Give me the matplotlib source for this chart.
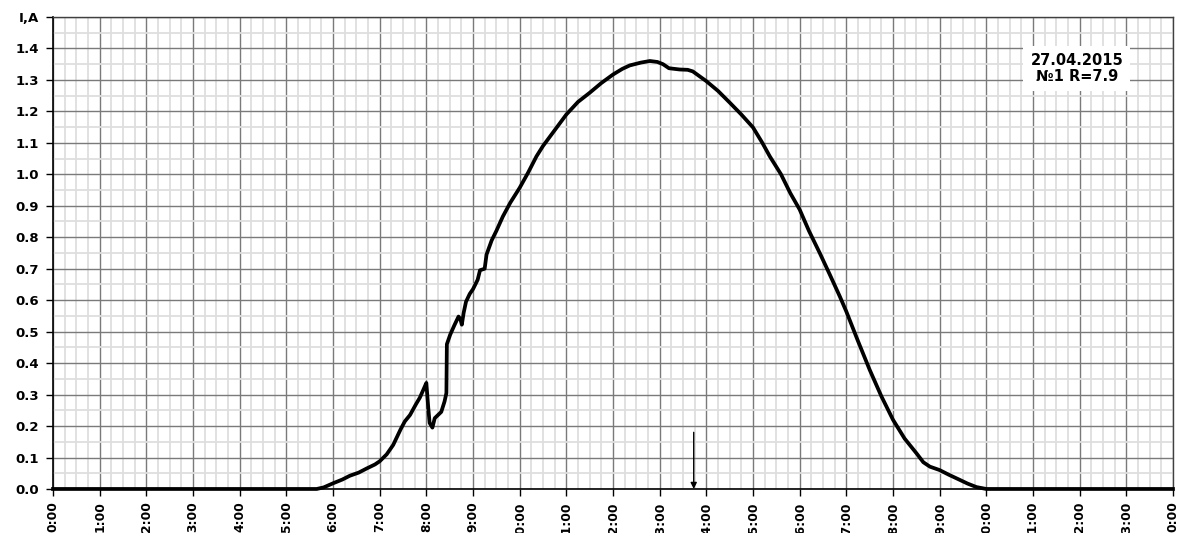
import numpy as np
import matplotlib
matplotlib.use("Agg")
import matplotlib.pyplot as plt
from matplotlib.ticker import MultipleLocator

# measured current vs time of day
hours = [0, 5.65, 5.8, 6.0, 6.2, 6.36, 6.55, 6.72, 6.9, 7.0, 7.15, 7.29, 7.45,
         7.54, 7.65, 7.78, 7.86, 7.95, 8.0, 8.04, 8.07, 8.13, 8.18, 8.25, 8.32,
         8.39, 8.43, 8.44, 8.51, 8.6, 8.69, 8.73, 8.76, 8.8, 8.85, 8.93, 9.0,
         9.1, 9.15, 9.25, 9.29, 9.4, 9.5, 9.64, 9.8, 10.0, 10.18, 10.36, 10.5,
         10.7, 11.0, 11.25, 11.5, 11.75, 12.0, 12.2, 12.36, 12.6, 12.79, 12.95,
         13.07, 13.2, 13.43, 13.6, 13.71, 13.85, 14.0, 14.25, 14.5, 14.75, 15.0,
         15.2, 15.36, 15.6, 15.8, 16.0, 16.2, 16.43, 16.65, 16.86, 17.0, 17.25,
         17.5, 17.75, 18.0, 18.25, 18.5, 18.65, 18.79, 19.0, 19.2, 19.43, 19.6,
         19.79, 20.0, 24]
current = [0, 0, 0.005, 0.018, 0.03, 0.042, 0.052, 0.065, 0.078, 0.088, 0.11,
           0.14, 0.19, 0.215, 0.235, 0.27, 0.29, 0.32, 0.337, 0.26, 0.21, 0.195,
           0.225, 0.235, 0.245, 0.278, 0.305, 0.46, 0.49, 0.52, 0.548, 0.54,
           0.522, 0.56, 0.595, 0.62, 0.635, 0.665, 0.695, 0.70, 0.745, 0.79,
           0.82, 0.866, 0.91, 0.957, 1.005, 1.057, 1.09, 1.13, 1.19, 1.23,
           1.259, 1.29, 1.317, 1.335, 1.346, 1.355, 1.36, 1.357, 1.35, 1.337,
           1.333, 1.332, 1.327, 1.312, 1.296, 1.265, 1.228, 1.19, 1.149, 1.10,
           1.057, 1.0, 0.94, 0.888, 0.82, 0.75, 0.68, 0.612, 0.564, 0.47, 0.379,
           0.295, 0.22, 0.16, 0.114, 0.085, 0.071, 0.06, 0.045, 0.029, 0.017,
           0.006, 0, 0]

# tick labels
xtick_hours = list(range(0, 25))
xtick_labels = ["%d:00" % (h % 24) for h in xtick_hours]
ytick_vals = [round(0.1 * i, 1) for i in range(16)]
ytick_labels = ["%.1f" % v for v in ytick_vals[:-1]] + ["I,A"]

# marker arrow and info box
arrow_hour = 13.73
arrow_top = 0.18
info_text = "27.04.2015\n\u21161 R=7.9"

font = "DejaVu Sans"

fig = plt.figure(figsize=(11.81, 5.33), dpi=100)
ax = fig.add_axes([0.0449, 0.0826, 0.9483, 0.8856])

ax.plot(hours, current, color="black", linewidth=2.7, clip_on=False, zorder=5)

ax.set_xlim(0, 24)
ax.set_ylim(0, 1.5)

ax.set_xticks(xtick_hours)
ax.set_xticklabels(xtick_labels, rotation=90, fontsize=8.8,
                   fontweight="bold", family=font)
ax.set_yticks(ytick_vals)
ax.set_yticklabels(ytick_labels, fontsize=9.5, fontweight="bold", family=font)

ax.xaxis.set_minor_locator(MultipleLocator(0.25))
ax.yaxis.set_minor_locator(MultipleLocator(0.05))
ax.tick_params(which="major", direction="out", length=5, width=1,
               color="black", pad=5)
ax.tick_params(axis="x", which="major", pad=4)
ax.tick_params(which="minor", length=0)

ax.grid(which="minor", color="#dedede", linewidth=1.3, zorder=0)
ax.grid(which="major", color="#7a7a7a", linewidth=1.0, zorder=1)
ax.set_axisbelow(True)

for side in ["left", "bottom"]:
    ax.spines[side].set_color("black")
    ax.spines[side].set_linewidth(1.2)
for side in ["top", "right"]:
    ax.spines[side].set_color("#404040")
    ax.spines[side].set_linewidth(1.0)

# arrow pointing down to the axis
ax.annotate("", xy=(arrow_hour, 0), xytext=(arrow_hour, arrow_top),
            arrowprops=dict(arrowstyle="-|>", color="black", lw=1.0,
                            mutation_scale=9, shrinkA=0, shrinkB=0),
            zorder=6)

# info box
ax.text(21.94, 1.336, info_text, ha="center", va="center", fontsize=10.5,
        fontweight="bold", family=font, linespacing=1.15, zorder=7,
        bbox=dict(facecolor="white", edgecolor="none", pad=5))

fig.savefig("out.png", dpi=100)
